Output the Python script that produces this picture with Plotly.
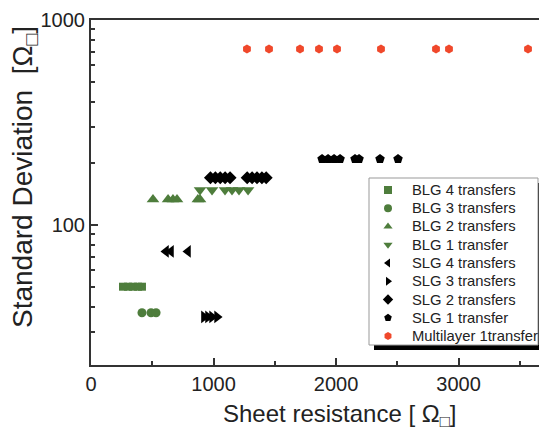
import plotly.graph_objects as go

# ---- data ----
blg4_x = [261, 302, 343, 384, 416]
blg4_y = [50, 50, 50, 50, 50]
blg3_x = [416, 490, 531]
blg3_y = [37.3, 37.3, 37.3]
blg2_x = [506, 629, 669, 702, 872, 890]
blg2_y = [133, 133, 133, 133, 133, 133]
blg1_x = [890, 988, 1094, 1151, 1208, 1282]
blg1_y = [148, 148, 148, 148, 148, 148]
slg4_x = [612, 653, 792]
slg4_y = [74.3, 74.3, 74.3]
slg3_x = [922, 955, 988, 1029]
slg3_y = [35.6, 35.6, 35.6, 35.6]
slg2_x = [975, 1015, 1055, 1095, 1135, 1275, 1315, 1355, 1395, 1430]
slg2_y = [170] * 10
slg1_x = [1886, 1935, 1984, 2033, 2155, 2188, 2359, 2506]
slg1_y = [210] * 8
multi_x = [1273, 1453, 1706, 1861, 2008, 2367, 2816, 2922, 3567]
multi_y = [722] * 9

x_ticks = [0, 1000, 2000, 3000]
y_ticks = [100, 1000]
y_tick_labels = ["100", "1000"]

green = "#4e7d3c"
red = "#f0482b"

series = [
    ("BLG 4 transfers", blg4_x, blg4_y, "square", green, 8),
    ("BLG 3 transfers", blg3_x, blg3_y, "circle", green, 9),
    ("BLG 2 transfers", blg2_x, blg2_y, "triangle-up", green, 11),
    ("BLG 1 transfer", blg1_x, blg1_y, "triangle-down", green, 11),
    ("SLG 4 transfers", slg4_x, slg4_y, "triangle-left", "black", 11),
    ("SLG 3 transfers", slg3_x, slg3_y, "triangle-right", "black", 11),
    ("SLG 2 transfers", slg2_x, slg2_y, "diamond", "black", 10),
    ("SLG 1 transfer", slg1_x, slg1_y, "pentagon", "black", 10),
    ("Multilayer 1transfer", multi_x, multi_y, "hexagon", red, 9),
]

OFF = 8  # page body margin offset
W, H = 547 - OFF, 430 - OFF
L, T = 91 - OFF, 20 - OFF
R = 0
B = H - (365 - OFF)
pw, ph = W - L - R, H - T - B

def px(x, y):
    # screen pixel -> paper coordinates
    return (x - OFF - L) / pw, (H - B - (y - OFF)) / ph

fig = go.Figure()
for name, xs, ys, sym, col, sz in series:
    fig.add_trace(go.Scatter(
        x=xs, y=ys, mode="markers", name=name, showlegend=False,
        marker=dict(symbol=sym, color=col, size=sz, line=dict(width=0)),
    ))

# ---- manual legend (box + shadow + markers + text) ----
sx0, sy1 = px(374, 183)
sx1, sy0 = px(543, 350)
fig.add_shape(type="rect", xref="paper", yref="paper", x0=sx0, x1=sx1, y0=sy0, y1=sy1,
              fillcolor="black", line=dict(width=0), layer="below")
bx0, by1 = px(369, 178)
bx1, by0 = px(538, 345)
fig.add_shape(type="rect", xref="paper", yref="paper", x0=bx0, x1=bx1, y0=by0, y1=by1,
              fillcolor="white", line=dict(width=1, color="#999"), layer="below")

leg_mx, leg_my, leg_sym, leg_col = [], [], [], []
for i, (name, xs, ys, sym, col, sz) in enumerate(series):
    row_y = 190 + 18.25 * i
    mx, my = px(388, row_y)
    tx, _ = px(410, row_y)
    leg_mx.append(mx)
    leg_my.append(my)
    leg_sym.append(sym)
    leg_col.append(col)
    fig.add_annotation(xref="paper", yref="paper", x=tx, y=my, text=name, showarrow=False,
                       xanchor="left", yanchor="middle",
                       font=dict(size=14.8, color="#222"))
fig.add_trace(go.Scatter(
    x=leg_mx, y=leg_my, xaxis="x2", yaxis="y2", mode="markers", showlegend=False,
    hoverinfo="skip",
    marker=dict(symbol=leg_sym, color=leg_col, size=8, line=dict(width=0)),
))

# ---- axis titles as annotations ----
fig.add_annotation(xref="paper", yref="paper", x=px(24, 0)[0], y=px(0, 177)[1],
                   text="Standard Deviation  [Ω<sub>□</sub>]", textangle=-90, showarrow=False,
                   xanchor="center", yanchor="middle", font=dict(size=28, color="#222"))
fig.add_annotation(xref="paper", yref="paper", x=px(340, 0)[0], y=px(0, 415)[1],
                   text="Sheet resistance [ Ω<sub>□</sub>]", showarrow=False,
                   xanchor="center", yanchor="middle", font=dict(size=24, color="#222"))

fig.update_layout(
    width=W, height=H,
    margin=dict(l=L, r=R, t=T, b=B),
    paper_bgcolor="white", plot_bgcolor="white",
    font=dict(family="Liberation Sans, Arial, sans-serif", color="#222"),
    showlegend=False,
    xaxis=dict(
        range=[0, 3722], showgrid=False, zeroline=False, automargin=False,
        showline=True, linecolor="#333", linewidth=2, mirror=True,
        ticks="inside", ticklen=7, tickwidth=1.5, tickcolor="#333",
        tickvals=x_ticks, tickfont=dict(size=20),
        minor=dict(tickvals=[500, 1500, 2500, 3500], ticks="inside", ticklen=4, tickcolor="#333"),
    ),
    yaxis=dict(
        type="log", range=[1.317, 3.0], showgrid=False, zeroline=False, automargin=False,
        showline=True, linecolor="#333", linewidth=2, mirror=False,
        ticks="inside", ticklen=7, tickwidth=1.5, tickcolor="#333",
        tickvals=y_ticks, ticktext=y_tick_labels, tickfont=dict(size=20),
        minor=dict(tickvals=[30, 40, 50, 60, 70, 80, 90, 200, 300, 400, 500, 600, 700, 800, 900],
                   ticks="inside", ticklen=4, tickcolor="#333"),
    ),
    xaxis2=dict(domain=[0, 1], range=[0, 1], overlaying="x", visible=False, fixedrange=True),
    yaxis2=dict(domain=[0, 1], range=[0, 1], overlaying="y", visible=False, fixedrange=True),
)

fig.write_html("out.html")
